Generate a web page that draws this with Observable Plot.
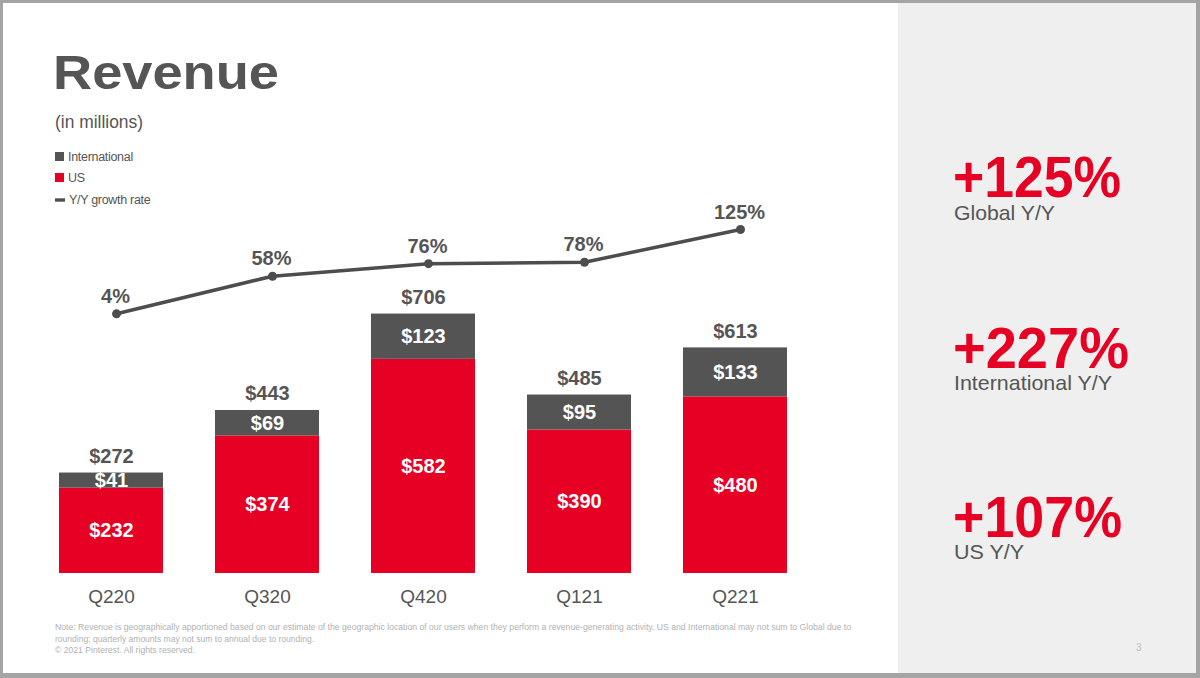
<!DOCTYPE html>
<html>
<head>
<meta charset="utf-8">
<script src="https://cdn.jsdelivr.net/npm/d3@7"></script>
<script src="https://cdn.jsdelivr.net/npm/@observablehq/plot@0.6"></script>
<style>
  body { margin: 0; background: #fff; }
  #slide { position: relative; width: 1200px; height: 678px; overflow: hidden; background: #fff;
           font-family: "Liberation Sans", Arial, sans-serif; }
  #panel { position: absolute; left: 898px; top: 0; width: 302px; height: 678px; background: #efefef; }
  .layer { position: absolute; left: 0; top: 0; }
  .chart { position: absolute; left: 0; top: 190px; }
  #frame { position: absolute; left: 0; top: 0; width: 1200px; height: 678px; box-sizing: border-box;
           border-style: solid; border-color: #a4a4a4; border-width: 3px 4px 5px 3px; pointer-events: none; }
</style>
</head>
<body>
<div id="slide">
  <div id="panel"></div>
  <div id="barChart" class="chart"></div>
  <div id="lineChart" class="chart"></div>
  <svg id="texts" class="layer" width="1200" height="678"></svg>
  <div id="frame"></div>
</div>
<script>
// ---- data ----
const quarters = ["Q220", "Q320", "Q420", "Q121", "Q221"];
const usRevenue = [232, 374, 582, 390, 480];
const intlRevenue = [41, 69, 123, 95, 133];
const totalRevenue = [272, 443, 706, 485, 613];
const yoyGrowth = [4, 58, 76, 78, 125];
const legendLabels = ["International", "US", "Y/Y growth rate"];
const highlightValues = ["+125%", "+227%", "+107%"];
const highlightLabels = ["Global Y/Y", "International Y/Y", "US Y/Y"];
const titleText = "Revenue";
const subtitleText = "(in millions)";
const noteLines = [
  "Note: Revenue is geographically apportioned based on our estimate of the geographic location of our users when they perform a revenue-generating activity. US and International may not sum to Global due to",
  "rounding; quarterly amounts may not sum to annual due to rounding.",
  "© 2021 Pinterest. All rights reserved."
];
const pageNumber = "3";

// ---- styles ----
const RED = "#e60023";
const GRAY = "#545454";
const TEXT = "#555555";
const LINE = "#4d4d4d";
const FONT = '"Liberation Sans", Arial, sans-serif';

const barRows = [];
quarters.forEach((q, i) => {
  barRows.push({q, seg: "US", v: usRevenue[i]});
  barRows.push({q, seg: "International", v: intlRevenue[i]});
});
const totals = quarters.map((q, i) => ({q, v: totalRevenue[i]}));
const growth = quarters.map((q, i) => ({q, g: yoyGrowth[i]}));

const W = 897, H = 420;
const common = {width: W, height: H, marginLeft: 6, marginRight: 57,
  style: {background: "transparent", fontFamily: FONT, color: TEXT, overflow: "visible"}};

const bars = Plot.plot({
  ...common,
  marginTop: 15, marginBottom: 37,
  x: {type: "band", domain: quarters, padding: 0.335, label: null},
  y: {domain: [0, 1000], axis: null},
  color: {domain: ["US", "International"], range: [RED, GRAY]},
  marks: [
    Plot.barY(barRows, {x: "q", y: "v", fill: "seg"}),
    Plot.text(barRows, Plot.stackY({x: "q", y: "v", z: "seg", text: d => "$" + d.v,
      fill: "white", fontSize: 20, fontWeight: "bold"})),
    Plot.text(totals, {x: "q", y: "v", text: d => "$" + d.v, lineAnchor: "bottom", dy: -10,
      fill: TEXT, fontSize: 20, fontWeight: "bold"}),
    Plot.axisX({tickSize: 0, tickPadding: 16, fontSize: 19, label: null, fill: TEXT})
  ]
});
document.getElementById("barChart").appendChild(bars);

const line = Plot.plot({
  ...common,
  marginTop: 21.6, marginBottom: 293.9,
  x: {type: "band", domain: quarters, padding: 0.335, axis: null},
  y: {domain: [0, 150], axis: null},
  marks: [
    Plot.lineY(growth, {x: "q", y: "g", stroke: LINE, strokeWidth: 3.5, dx: 5}),
    Plot.dot(growth, {x: "q", y: "g", r: 4.5, fill: LINE, dx: 5}),
    Plot.text(growth, {x: "q", y: "g", text: d => d.g + "%", lineAnchor: "bottom", dy: -11, dx: 4,
      fill: TEXT, fontSize: 20, fontWeight: "bold"})
  ]
});
document.getElementById("lineChart").appendChild(line);

// ---- static texts ----
const svg = d3.select("#texts").style("font-family", FONT);
function txt(x, y, s, size, opts = {}) {
  const t = svg.append("text").attr("x", x).attr("y", y).text(s)
    .attr("font-size", size).attr("fill", opts.fill || TEXT)
    .attr("font-weight", opts.weight || "normal");
  if (opts.len) t.attr("textLength", opts.len).attr("lengthAdjust", "spacingAndGlyphs");
  if (opts.ls != null) t.style("letter-spacing", opts.ls + "px");
  return t;
}
txt(53, 89, titleText, 47.5, {weight: "bold", len: 226});
txt(55, 127.5, subtitleText, 17.5, {len: 88});

// legend
const legendY = [161, 182, 204];
svg.append("rect").attr("x", 55).attr("y", 152).attr("width", 9).attr("height", 9).attr("fill", GRAY);
svg.append("rect").attr("x", 55).attr("y", 173).attr("width", 9).attr("height", 9).attr("fill", RED);
svg.append("rect").attr("x", 55).attr("y", 198.3).attr("width", 10).attr("height", 3.4).attr("fill", LINE);
legendLabels.forEach((s, i) => txt(i === 2 ? 69 : 68, legendY[i], s, 12.5, {ls: -0.3}));

// right panel highlights
const hlBase = [197, 368, 537];
const hlLen = [168, 176, 169];
const lbBase = [220, 390, 559];
const lbLen = [101, 158, 70];
highlightValues.forEach((s, i) => txt(953, hlBase[i], s, 58, {weight: "bold", fill: RED, len: hlLen[i]}));
highlightLabels.forEach((s, i) => txt(954, lbBase[i], s, 21, {len: lbLen[i]}));

// notes
const noteBase = [629.5, 641.5, 653];
const noteLen = [796, 259, 140];
noteLines.forEach((s, i) => txt(55, noteBase[i], s, 9, {fill: "#b2b2b2", len: noteLen[i]}));
txt(1136, 651, pageNumber, 10, {fill: "#bdbdbd"});
</script>
</body>
</html>
